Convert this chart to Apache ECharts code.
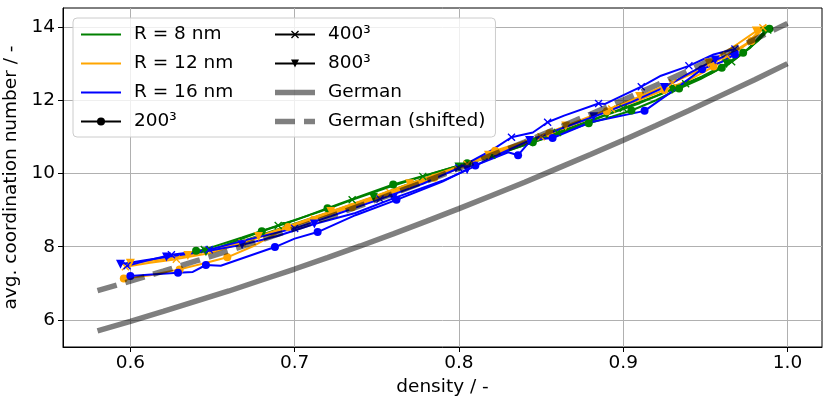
<!DOCTYPE html>
<html>
<head>
<meta charset="utf-8">
<script src="https://cdn.jsdelivr.net/npm/echarts@6/dist/echarts.min.js"></script>
<style>
  html, body { margin: 0; padding: 0; background: #fff; }
  #chart { width: 830px; height: 405px; }
</style>
</head>
<body>
<div id="chart"></div>
<script>
// density / coordination number pairs
const r8_200 = [[0.640,7.89],[0.652,7.95],[0.680,8.42],[0.700,8.72],[0.720,9.05],[0.740,9.38],[0.760,9.70],[0.782,9.98],[0.805,10.28],[0.825,10.55],[0.845,10.85],[0.862,11.10],[0.879,11.37],[0.893,11.55],[0.905,11.72],[0.920,12.00],[0.934,12.32],[0.947,12.58],[0.960,12.89],[0.967,13.08],[0.973,13.30],[0.982,13.62],[0.989,13.95]];
const r8_400 = [[0.645,7.92],[0.668,8.25],[0.690,8.58],[0.715,8.95],[0.735,9.28],[0.757,9.62],[0.778,9.92],[0.800,10.22],[0.820,10.50],[0.840,10.80],[0.860,11.12],[0.880,11.45],[0.900,11.78],[0.920,12.12],[0.938,12.45],[0.953,12.72],[0.966,13.05],[0.977,13.42],[0.988,13.92]];
const r8_800 = [[0.646,7.86],[0.670,8.18],[0.695,8.55],[0.720,8.92],[0.748,9.35],[0.775,9.80],[0.800,10.18],[0.822,10.50],[0.845,10.85],[0.868,11.22],[0.890,11.60],[0.910,11.92],[0.930,12.30],[0.948,12.65],[0.963,13.00],[0.976,13.40],[0.986,13.88]];

const r12_200 = [[0.596,7.13],[0.612,7.22],[0.630,7.38],[0.645,7.55],[0.659,7.71],[0.675,8.02],[0.696,8.54],[0.712,8.75],[0.735,9.08],[0.760,9.48],[0.785,9.88],[0.805,10.22],[0.822,10.62],[0.838,10.85],[0.855,11.10],[0.872,11.38],[0.890,11.70],[0.908,11.98],[0.925,12.28],[0.940,12.55],[0.955,12.92],[0.968,13.30],[0.978,13.62],[0.986,14.00]];
const r12_400 = [[0.597,7.45],[0.612,7.56],[0.628,7.66],[0.648,7.82],[0.668,8.10],[0.690,8.42],[0.712,8.76],[0.735,9.12],[0.758,9.48],[0.782,9.86],[0.805,10.25],[0.828,10.62],[0.850,11.00],[0.872,11.38],[0.893,11.76],[0.912,12.12],[0.930,12.48],[0.948,12.85],[0.963,13.22],[0.975,13.55],[0.985,13.98]];
const r12_800 = [[0.600,7.55],[0.618,7.64],[0.635,7.76],[0.655,7.96],[0.678,8.28],[0.700,8.62],[0.722,8.96],[0.745,9.32],[0.770,9.72],[0.795,10.12],[0.818,10.50],[0.842,10.90],[0.865,11.30],[0.888,11.70],[0.910,12.10],[0.933,12.55],[0.952,13.02],[0.970,13.55],[0.981,13.89],[0.987,14.05]];

const r16_200 = [[0.600,7.20],[0.615,7.25],[0.629,7.29],[0.638,7.31],[0.646,7.50],[0.655,7.48],[0.688,7.99],[0.700,8.22],[0.714,8.40],[0.737,8.86],[0.762,9.28],[0.790,9.78],[0.810,10.22],[0.830,10.58],[0.836,10.50],[0.844,10.92],[0.857,10.97],[0.880,11.40],[0.913,11.71],[0.930,12.25],[0.948,12.85],[0.960,13.05],[0.968,13.25]];
const r16_400 = [[0.598,7.48],[0.610,7.62],[0.625,7.78],[0.636,7.84],[0.648,7.92],[0.672,8.20],[0.700,8.50],[0.725,8.88],[0.752,9.30],[0.778,9.72],[0.800,10.15],[0.820,10.64],[0.832,10.99],[0.845,11.12],[0.854,11.40],[0.864,11.58],[0.885,11.91],[0.889,11.90],[0.911,12.37],[0.923,12.67],[0.940,12.94],[0.955,13.25],[0.968,13.40]];
const r16_800 = [[0.594,7.52],[0.608,7.62],[0.622,7.72],[0.647,7.88],[0.668,8.05],[0.690,8.30],[0.712,8.62],[0.737,8.92],[0.760,9.32],[0.790,9.80],[0.805,10.10],[0.820,10.44],[0.843,10.90],[0.862,11.22],[0.882,11.55],[0.905,11.95],[0.925,12.35],[0.942,12.78],[0.956,13.10],[0.970,13.35]];

// German reference curve and its shifted copy
const germanX = [0.58,0.60,0.62,0.64,0.66,0.68,0.70,0.72,0.74,0.76,0.78,0.80,0.82,0.84,0.86,0.88,0.90,0.92,0.94,0.96,0.98,1.00];
const germanY = [5.70,5.96,6.23,6.51,6.79,7.09,7.39,7.70,8.02,8.35,8.69,9.04,9.40,9.76,10.14,10.52,10.91,11.31,11.72,12.14,12.56,13.00];
const germanShiftY = [6.80,7.06,7.33,7.61,7.89,8.19,8.49,8.80,9.12,9.45,9.79,10.14,10.50,10.86,11.24,11.62,12.01,12.41,12.82,13.24,13.66,14.10];

const xTicks = [0.6, 0.7, 0.8, 0.9, 1.0];
const yTicks = [6, 8, 10, 12, 14];

const FONT = 'DejaVu Sans';
const FS = 18.5;
const GREEN = '#008000', ORANGE = '#ffa500', BLUE = '#0000ff';
const CROSS = 'path://M0,1.2L1.2,0L5,3.8L8.8,0L10,1.2L6.2,5L10,8.8L8.8,10L5,6.2L1.2,10L0,8.8L3.8,5Z';

const markers = {
  '200': { symbol: 'circle', size: 8, rotate: 0 },
  '400': { symbol: CROSS, size: 8, rotate: 0 },
  '800': { symbol: 'triangle', size: 9, rotate: 180 }
};

function runSeries(name, pts, color, res) {
  const m = markers[res];
  return {
    name: name,
    type: 'line',
    data: pts.map((p, i) => (i % 2 === 0 ? { value: p } : { value: p, symbol: 'none' })),
    symbol: m.symbol,
    symbolSize: m.size,
    symbolRotate: m.rotate,
    showSymbol: true,
    color: color,
    lineStyle: { color: color, width: 2 },
    itemStyle: { color: color },
    z: 2
  };
}

function legendOnly(name, color, res) {
  const s = {
    name: name, type: 'line', data: [],
    color: color,
    lineStyle: { color: color, width: 1.5 },
    itemStyle: { color: color },
    symbol: 'none'
  };
  if (res) {
    s.symbol = markers[res].symbol;
    s.symbolRotate = markers[res].rotate;
  }
  return s;
}

const series = [
  runSeries('g200', r8_200, GREEN, '200'),
  runSeries('g400', r8_400, GREEN, '400'),
  runSeries('g800', r8_800, GREEN, '800'),
  runSeries('o200', r12_200, ORANGE, '200'),
  runSeries('o400', r12_400, ORANGE, '400'),
  runSeries('o800', r12_800, ORANGE, '800'),
  runSeries('b200', r16_200, BLUE, '200'),
  runSeries('b400', r16_400, BLUE, '400'),
  runSeries('b800', r16_800, BLUE, '800'),
  legendOnly('R = 8 nm', GREEN),
  legendOnly('R = 12 nm', ORANGE),
  legendOnly('R = 16 nm', BLUE),
  legendOnly('200³', '#000', '200'),
  legendOnly('400³', '#000', '400'),
  legendOnly('800³', '#000', '800'),
  {
    name: 'German', type: 'line', symbol: 'none', z: 3,
    data: germanX.map((x, i) => [x, germanY[i]]),
    color: 'rgba(0,0,0,0.5)',
    lineStyle: { color: 'rgba(0,0,0,0.5)', width: 5.5, cap: 'butt' }
  },
  {
    name: 'German (shifted)', type: 'line', symbol: 'none', z: 3,
    data: germanX.map((x, i) => [x, germanShiftY[i]]),
    color: 'rgba(0,0,0,0.5)',
    lineStyle: { color: 'rgba(0,0,0,0.5)', width: 5.5, type: [20, 9], cap: 'butt' }
  }
];

const noMark = { opacity: 0 };

const chart = echarts.init(document.getElementById('chart'), null, { renderer: 'canvas' });
chart.setOption({
  animation: false,
  backgroundColor: '#fff',
  textStyle: { fontFamily: FONT },
  grid: {
    left: 63, right: 8, top: 8, bottom: 58,
    outerBoundsMode: 'none', containLabel: false,
    show: true, borderColor: '#000', borderWidth: 1, backgroundColor: 'transparent'
  },
  legend: {
    orient: 'vertical',
    left: 73, top: 18,
    height: 118,
    padding: [7, 10, 6, 7],
    itemWidth: 40, itemHeight: 10, itemGap: 10,
    backgroundColor: 'rgba(255,255,255,0.8)',
    borderColor: '#cccccc', borderWidth: 1, borderRadius: 4,
    textStyle: { fontFamily: FONT, fontSize: FS, color: '#000', lineHeight: 18, width: 130, padding: [0, 0, 0, 8] },
    data: [
      { name: 'R = 8 nm', itemStyle: noMark },
      { name: 'R = 12 nm', itemStyle: noMark },
      { name: 'R = 16 nm', itemStyle: noMark },
      '200³', '400³', '800³',
      { name: 'German', itemStyle: noMark, lineStyle: { width: 5.5 } },
      { name: 'German (shifted)', itemStyle: noMark, lineStyle: { width: 5.5, type: [20, 9] } }
    ]
  },
  xAxis: {
    type: 'value', min: 0.559, max: 1.021, splitNumber: 5,
    name: 'density / -', nameLocation: 'middle', nameGap: 25,
    nameTextStyle: { fontFamily: FONT, fontSize: FS, color: '#000' },
    axisLine: { lineStyle: { color: '#000' } },
    axisTick: { show: true, inside: false, length: 5, lineStyle: { color: '#000' }, customValues: xTicks },
    axisLabel: { fontFamily: FONT, fontSize: FS, color: '#000', margin: 7, customValues: xTicks, formatter: v => v.toFixed(1) },
    splitLine: { show: true, lineStyle: { color: '#b0b0b0', width: 1 } }
  },
  yAxis: {
    type: 'value', min: 5.26, max: 14.52, splitNumber: 5,
    name: 'avg. coordination number / -', nameLocation: 'middle', nameGap: 32,
    nameTextStyle: { fontFamily: FONT, fontSize: FS, color: '#000' },
    axisLine: { show: true, lineStyle: { color: '#000' } },
    axisTick: { show: true, inside: false, length: 5, lineStyle: { color: '#000' }, customValues: yTicks },
    axisLabel: { fontFamily: FONT, fontSize: FS, color: '#000', margin: 8, customValues: yTicks },
    splitLine: { show: true, lineStyle: { color: '#b0b0b0', width: 1 } }
  },
  series: series
});
</script>
</body>
</html>
